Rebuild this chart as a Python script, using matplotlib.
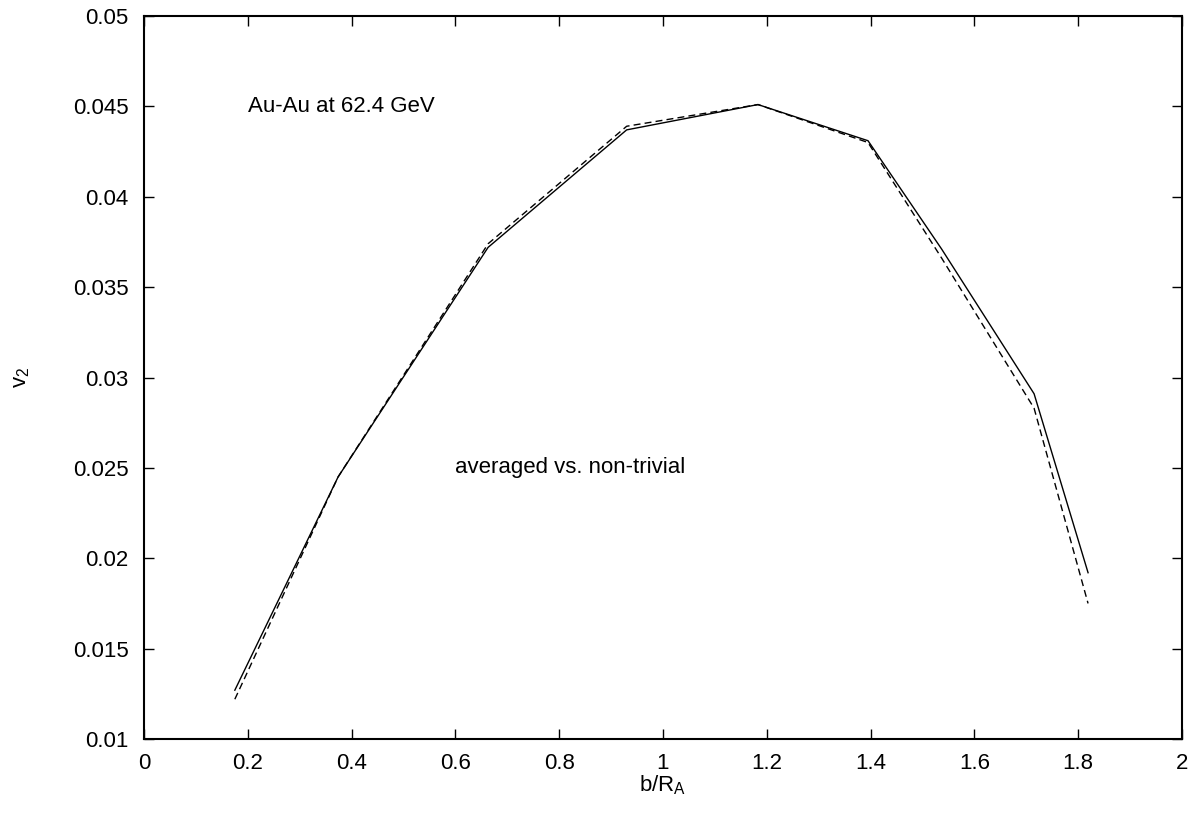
#v2 vs impact parameter, Au-Au at 62.4 GeV
import matplotlib
matplotlib.use('Agg')
import matplotlib.pyplot as plt

plt.rcParams['font.family'] = ['Liberation Sans', 'DejaVu Sans']

#data
b_over_RA = [0.175, 0.374, 0.663, 0.930, 1.183, 1.395, 1.537, 1.715, 1.819]
v2_averaged = [0.0127, 0.0245, 0.0372, 0.0437, 0.0451, 0.0431, 0.0371, 0.0291, 0.0192]
v2_nontrivial = [0.0122, 0.0245, 0.0374, 0.0439, 0.0451, 0.0430, 0.0366, 0.0283, 0.0175]

x_ticks = [0, 0.2, 0.4, 0.6, 0.8, 1, 1.2, 1.4, 1.6, 1.8, 2]
x_tick_labels = ['0', '0.2', '0.4', '0.6', '0.8', '1', '1.2', '1.4', '1.6', '1.8', '2']
y_ticks = [0.01, 0.015, 0.02, 0.025, 0.03, 0.035, 0.04, 0.045, 0.05]
y_tick_labels = ['0.01', '0.015', '0.02', '0.025', '0.03', '0.035', '0.04', '0.045', '0.05']

W, H = 1202, 817
fig = plt.figure(figsize=(W/100, H/100), dpi=100)
#axes box placed to match the gnuplot frame (pixels 144..1182 x 16..739)
ax = fig.add_axes([144/W, 1 - 739/H, (1182-144)/W, (739-16)/H])

ax.plot(b_over_RA, v2_averaged, color='black', lw=1.0, linestyle='-')
ax.plot(b_over_RA, v2_nontrivial, color='black', lw=1.0, linestyle=(0, (5, 3)))

ax.set_xlim(0, 2)
ax.set_ylim(0.01, 0.05)
ax.set_xticks(x_ticks)
ax.set_xticklabels(x_tick_labels)
ax.set_yticks(y_ticks)
ax.set_yticklabels(y_tick_labels)
ax.tick_params(direction='in', length=7.2, width=1.0, top=True, right=True,
               labelsize=16)
ax.tick_params(axis='y', pad=11)
ax.tick_params(axis='x', pad=10)
for s in ax.spines.values():
    s.set_linewidth(1.5)

ax.set_xlabel('b/R$_\\mathregular{A}$', fontsize=16, labelpad=0)
ax.set_ylabel('v$_\\mathregular{2}$', fontsize=16)
ax.yaxis.set_label_coords(-0.108, 0.5)

ax.text(0.2, 0.045, 'Au-Au at 62.4 GeV', fontsize=16, va='center', ha='left')
ax.text(0.6, 0.025, 'averaged vs. non-trivial', fontsize=16, va='center', ha='left')

fig.savefig('out.png', dpi=100)
